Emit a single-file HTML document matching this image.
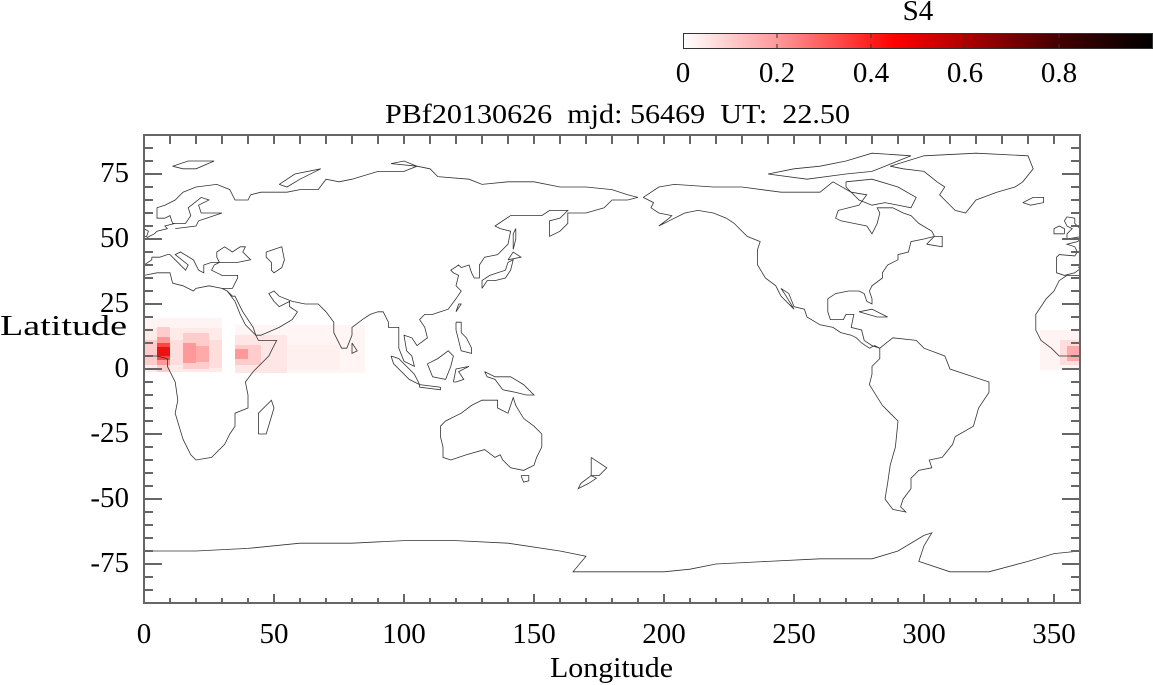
<!DOCTYPE html>
<html><head><meta charset="utf-8"><style>
html,body{margin:0;padding:0;background:#fff;}
svg{display:block;}
text{font-family:"Liberation Serif",serif;fill:#000;}
</style></head><body>
<svg width="1153" height="685" viewBox="0 0 1153 685" xmlns="http://www.w3.org/2000/svg">
<defs>
<linearGradient id="cb" x1="0" x2="1" y1="0" y2="0">
<stop offset="0" stop-color="#fff"/>
<stop offset="0.2" stop-color="#f99"/>
<stop offset="0.45" stop-color="#f00"/>
<stop offset="0.8" stop-color="#400"/>
<stop offset="1" stop-color="#000"/>
</linearGradient>
<clipPath id="fr"><rect x="144" y="135" width="936" height="468"/></clipPath>
<g id="coast" fill="none" stroke="#333" stroke-width="0.8">
<polyline vector-effect="non-scaling-stroke" points="9,4 9,1 12,-5 13,-12 12,-17 15,-27 18,-33 20,-35 26,-34 31,-29 33,-25 35,-22 35,-17 40,-15 40,-10 39,-5 42,-1 48,5 51,11 44,11 43,13 39,17 37,21 35,26 32,30 30,31 25,32 20,31 19,30 15,32 11,33 10,37 5,37 0,36 -5,36 -8,34 -10,30 -13,27 -17,21 -17,15 -15,11 -11,8 -8,5 -4,5 0,5 5,5 9,4"/>
<polyline vector-effect="non-scaling-stroke" points="3,43 3,42 0,40 -0.5,39 0,38.5 -2,37 -6,36 -9,37 -9,43 -8,44 -2,43.5 -1,45 -2,47 -5,48 -1,49 2,51 4,52"/>
<polyline vector-effect="non-scaling-stroke" points="3,43 6,43 9,44 10,44 12,42 16,38 17,40 12,44 14,45 19,42 21,38 23,37 23,40 26,41 29,41 28,43 28,45 31,47 34,45 37,47 39,47 38,45 41,42 36,41 29,41 27,40 26,38 28,37 30,36 36,36 36,35 35,33 34,31 32,31 30,31"/>
<polyline vector-effect="non-scaling-stroke" points="47,45 50,46 53,47 54,42 53,39 50,37 49,38 49,41 47,43 47,45"/>
<polyline vector-effect="non-scaling-stroke" points="32,30 34,28 35,28 38,22 42,16 43,13 45,13 52,16 57,19 59,22 56,24 56,26 52,24 50,26 48,29 50,30 52,28 57,26 62,25 67,25 70,22 73,18 73,14 76,8 78,8 80,13 80,16 84,19 87,21 90,22 92,22 94,18 94,16 98,16 98,8 100,3 104,1 103,5 101,7 100,13 103,12 105,9 109,12 108,16 106,19 108,21 111,21 114,22 117,23 120,27 122,30 120,32 121,36 119,37 118,38 121,40 122,39 125,40 126,37 127,35 129,35 129,40 131,43 136,44 140,48 141,53 137,54 135,55 141,59 148,59 153,59 156,61 159,61 163,61 160,58 156,57 156,51 160,53 163,56 163,60 170,60 177,62 180,65 186,65 190,66 186,67 180,69 170,70 160,70 150,72 140,72 130,71 125,73 113,74 110,77 105,78 100,76 90,76 80,73 75,72 70,73 67,69 60,69 55,68 45,68 41,67 40,65 35,65 33,69 28,71 20,70 15,68 12,65 8,63 5,62 5,58 8,58 10,59 11,56 12,56 8,55 9,54 5,53 4,52"/>
<polyline vector-effect="non-scaling-stroke" points="12,54 20,55 21,57 24,58 30,60 22,60 21,63 25,65 22,66 17,62 18,59 16,56 12,56"/>
<polyline vector-effect="non-scaling-stroke" points="-5,50 1,51 1.7,53 0,54 -2,56 -2,58 -5,58.5 -6,57 -5,55 -3,54 -5,52 -5,50"/>
<polyline vector-effect="non-scaling-stroke" points="-6,52 -10,52 -10,54 -8,55 -6,54 -6,52"/>
<polyline vector-effect="non-scaling-stroke" points="-22,64 -18,66 -14,66 -14,64 -19,63 -22,64"/>
<polyline vector-effect="non-scaling-stroke" points="-73,78 -60,82 -40,83 -20,82 -18,77 -22,72 -25,70 -32,68 -40,65 -44,60 -48,61 -51,64 -54,67 -52,70 -55,72 -60,76 -68,77 -73,78"/>
<polyline vector-effect="non-scaling-stroke" points="-168,66 -162,70 -156,71 -141,70 -130,70 -115,68 -100,68 -95,72 -88,68 -82,67 -85,63 -93,61 -94,58 -92,57 -87,56 -82,55 -80,52 -78,56 -77,60 -78,62 -72,62 -68,60 -65,59 -62,56 -57,53 -56,51 -60,50 -65,49 -66,45 -70,44 -70,42 -74,40 -76,37 -76,35 -80,32 -81,30 -80,27 -80,25 -82,26 -83,29 -85,30 -89,30 -94,29 -97,27 -97,22 -96,19 -91,19 -90,21 -87,21 -88,16 -84,15 -83,11 -80,9 -77,8 -79,9 -81,8 -84,10 -86,12 -88,13 -92,14 -95,16 -100,17 -105,20 -106,23 -110,24 -112,29 -115,31 -113,28 -110,23 -115,28 -117,32 -121,35 -124,40 -124,46 -123,49 -128,51 -133,56 -136,58 -141,60 -147,61 -152,60 -158,57 -162,55 -158,58 -157,59 -162,60 -165,62 -164,64 -168,66"/>
<polyline vector-effect="non-scaling-stroke" points="-120,75 -110,77 -100,78 -90,80 -80,83 -65,82 -75,78 -80,76 -90,75 -105,73 -120,75"/>
<polyline vector-effect="non-scaling-stroke" points="-90,72 -80,73 -70,70 -63,66 -65,62 -75,64 -80,63 -85,65 -90,70 -90,72"/>
<polyline vector-effect="non-scaling-stroke" points="-85,22 -80,23 -74,20 -78,20 -85,22"/>
<polyline vector-effect="non-scaling-stroke" points="-59,48 -53,47 -53,51 -56,51 -59,48"/>
<polyline vector-effect="non-scaling-stroke" points="-77,8 -72,12 -63,11 -60,8 -52,5 -50,0 -44,-2 -35,-5 -35,-9 -39,-15 -41,-22 -48,-26 -49,-29 -53,-34 -58,-35 -57,-38 -62,-39 -65,-42 -65,-46 -68,-50 -69,-53 -67,-55 -72,-54 -75,-50 -74,-44 -73,-37 -71,-30 -70,-20 -76,-14 -81,-6 -80,-2 -80,1 -77,4 -77,8"/>
<polyline vector-effect="non-scaling-stroke" points="114,-22 116,-20 122,-17 126,-14 130,-12 136,-12 136,-15 140,-17 142,-11 143,-14 146,-19 150,-22 153,-25 153,-30 151,-34 150,-37 146,-39 141,-38 138,-35 137,-33 135,-34 131,-31 124,-33 118,-35 115,-34 115,-30 114,-26 114,-22"/>
<polyline vector-effect="non-scaling-stroke" points="145,-41 148,-41 148,-43 146,-43.5 145,-41"/>
<polyline vector-effect="non-scaling-stroke" points="172,-34 178,-38 175,-41 172,-41 172,-34"/>
<polyline vector-effect="non-scaling-stroke" points="172,-41 174,-42 171,-44 167,-46 168,-44 172,-41"/>
<polyline vector-effect="non-scaling-stroke" points="130,31 132,34 135,34 139,35 141,38 142,42 140,41 139,38 136,37 133,36 130,34 130,31"/>
<polyline vector-effect="non-scaling-stroke" points="140,42 145,43 142,45 140,42"/>
<polyline vector-effect="non-scaling-stroke" points="142,46 143,50 143,54 142,52 142,46"/>
<polyline vector-effect="non-scaling-stroke" points="120,22 122,25 121,25 120,22"/>
<polyline vector-effect="non-scaling-stroke" points="120,18 122,18 122,14 124,12 126,8 126,6 122,7 120,15 120,18"/>
<polyline vector-effect="non-scaling-stroke" points="109,2 111,-3 116,-4 118,1 119,5 117,7 113,4 109,2"/>
<polyline vector-effect="non-scaling-stroke" points="95,5 98,4 104,-2 106,-6 102,-4 96,2 95,5"/>
<polyline vector-effect="non-scaling-stroke" points="106,-6 114,-7 114,-8 106,-7 106,-6"/>
<polyline vector-effect="non-scaling-stroke" points="119,-5 120,0 125,1 121,-1 123,-4 120,-5 119,-5"/>
<polyline vector-effect="non-scaling-stroke" points="131,-1 135,-3 141,-3 146,-6 150,-10 147,-10 143,-9 138,-8 135,-4 132,-3 131,-1"/>
<polyline vector-effect="non-scaling-stroke" points="80,10 82,7 80,6 80,10"/>
<polyline vector-effect="non-scaling-stroke" points="44,-25 47,-25 50,-15 49,-12 44,-17 44,-25"/>
<polyline vector-effect="non-scaling-stroke" points="52,71 58,75 68,77 60,73 55,70 52,71"/>
<polyline vector-effect="non-scaling-stroke" points="11,78 17,80 27,80 20,77 15,77 11,78"/>
<polyline vector-effect="non-scaling-stroke" points="95,79 100,80 105,78 95,79"/>
<polyline vector-effect="non-scaling-stroke" points="-180,-78 -160,-78 -150,-77 -140,-75 -120,-74 -100,-73 -80,-73 -70,-70 -60,-64 -57,-63 -60,-68 -62,-74 -50,-78 -35,-78 -20,-74 -10,-71 0,-70 20,-70 40,-69 60,-67 80,-67 100,-66 120,-66 140,-67 160,-70 170,-72 165,-78 180,-78"/>
</g>
</defs>

<!-- heatmap -->
<g>
<rect x="144" y="327" width="78" height="45" fill="#ffeaea"/>
<rect x="144" y="318" width="78" height="10" fill="#fff4f4"/>
<rect x="144" y="340" width="13" height="25" fill="#fcc"/>
<rect x="157" y="327" width="13" height="45" fill="#fcc"/>
<rect x="157" y="337" width="13" height="28" fill="#f99"/>
<rect x="157" y="343" width="13" height="17" fill="#f44"/>
<rect x="157" y="347" width="13" height="9" fill="#e11"/>
<rect x="170" y="340" width="13" height="25" fill="#fdd"/>
<rect x="183" y="333" width="26" height="36" fill="#fcc"/>
<rect x="183" y="343" width="13" height="20" fill="#f99"/>
<rect x="196" y="346" width="13" height="16" fill="#faa"/>
<rect x="209" y="340" width="13" height="28" fill="#fdd"/>
<rect x="235" y="325" width="130" height="48" fill="#fff5f5"/>
<rect x="235" y="335" width="52" height="38" fill="#ffe6e6"/>
<rect x="235" y="345" width="26" height="20" fill="#fcc"/>
<rect x="235" y="349" width="13" height="10" fill="#f99"/>
<rect x="287" y="345" width="52" height="24" fill="#fff0f0"/>
<rect x="1040" y="330" width="40" height="40" fill="#fff3f3"/>
<rect x="1060" y="340" width="20" height="25" fill="#fdd"/>
<rect x="1067" y="346" width="13" height="15" fill="#faa"/>
</g>

<g clip-path="url(#fr)">
<g transform="translate(144,369) scale(2.6,-2.6)">
<use href="#coast"/>
<use href="#coast" x="360"/>
</g>
</g>

<!-- frame -->
<rect x="144" y="135" width="936" height="468" fill="none" stroke="#666" stroke-width="2"/>
<g stroke="#666" stroke-width="2">
<path d="M144,148h9M144,161h9M144,174h18M144,187h9M144,200h9M144,213h9M144,226h9M144,239h18M144,252h9M144,265h9M144,278h9M144,291h9M144,304h18M144,317h9M144,330h9M144,343h9M144,356h9M144,369h18M144,382h9M144,395h9M144,408h9M144,421h9M144,434h18M144,447h9M144,460h9M144,473h9M144,486h9M144,499h18M144,512h9M144,525h9M144,538h9M144,551h9M144,564h18M144,577h9M144,590h9"/>
<path d="M1080,148h-9M1080,161h-9M1080,174h-18M1080,187h-9M1080,200h-9M1080,213h-9M1080,226h-9M1080,239h-18M1080,252h-9M1080,265h-9M1080,278h-9M1080,291h-9M1080,304h-18M1080,317h-9M1080,330h-9M1080,343h-9M1080,356h-9M1080,369h-18M1080,382h-9M1080,395h-9M1080,408h-9M1080,421h-9M1080,434h-18M1080,447h-9M1080,460h-9M1080,473h-9M1080,486h-9M1080,499h-18M1080,512h-9M1080,525h-9M1080,538h-9M1080,551h-9M1080,564h-18M1080,577h-9M1080,590h-9"/>
<path d="M170,603v-5M196,603v-5M222,603v-5M248,603v-5M274,603v-9M300,603v-5M326,603v-5M352,603v-5M378,603v-5M404,603v-9M430,603v-5M456,603v-5M482,603v-5M508,603v-5M534,603v-9M560,603v-5M586,603v-5M612,603v-5M638,603v-5M664,603v-9M690,603v-5M716,603v-5M742,603v-5M768,603v-5M794,603v-9M820,603v-5M846,603v-5M872,603v-5M898,603v-5M924,603v-9M950,603v-5M976,603v-5M1002,603v-5M1028,603v-5M1054,603v-9"/>
<path d="M170,135v9M196,135v9M222,135v9M248,135v9M274,135v9M300,135v9M326,135v9M352,135v9M378,135v9M404,135v9M430,135v9M456,135v9M482,135v9M508,135v9M534,135v9M560,135v9M586,135v9M612,135v9M638,135v9M664,135v9M690,135v9M716,135v9M742,135v9M768,135v9M794,135v9M820,135v9M846,135v9M872,135v9M898,135v9M924,135v9M950,135v9M976,135v9M1002,135v9M1028,135v9M1054,135v9"/>
</g>

<!-- labels -->
<g font-size="29" text-anchor="end">
<text x="129" y="182">75</text>
<text x="129" y="247">50</text>
<text x="129" y="312">25</text>
<text x="129" y="377">0</text>
<text x="129" y="442">-25</text>
<text x="129" y="507">-50</text>
<text x="129" y="572">-75</text>
</g>
<g font-size="29" text-anchor="middle">
<text x="144" y="643">0</text>
<text x="274" y="643">50</text>
<text x="404" y="643">100</text>
<text x="534" y="643">150</text>
<text x="664" y="643">200</text>
<text x="794" y="643">250</text>
<text x="924" y="643">300</text>
<text x="1054" y="643">350</text>
<text x="918" y="20">S4</text>
<text x="683" y="82">0</text>
<text x="777" y="82">0.2</text>
<text x="871" y="82">0.4</text>
<text x="965" y="82">0.6</text>
<text x="1059" y="82">0.8</text>
</g>
<text x="550" y="677" font-size="29" textLength="123" lengthAdjust="spacingAndGlyphs">Longitude</text>
<text x="385" y="123" font-size="27" textLength="465" lengthAdjust="spacingAndGlyphs" xml:space="preserve">PBf20130626  mjd: 56469  UT:  22.50</text>
<text x="0" y="335" font-size="29" textLength="127" lengthAdjust="spacingAndGlyphs">Latitude</text>

<!-- colorbar -->
<rect x="683.5" y="33.5" width="469" height="15" fill="url(#cb)" stroke="#333" stroke-width="1"/>
<g stroke="#333" stroke-width="1"><path d="M777,34v4M871,34v4M965,34v4M1059,34v4M777,48v-4M871,48v-4M965,48v-4M1059,48v-4"/></g>
</svg>
</body></html>
